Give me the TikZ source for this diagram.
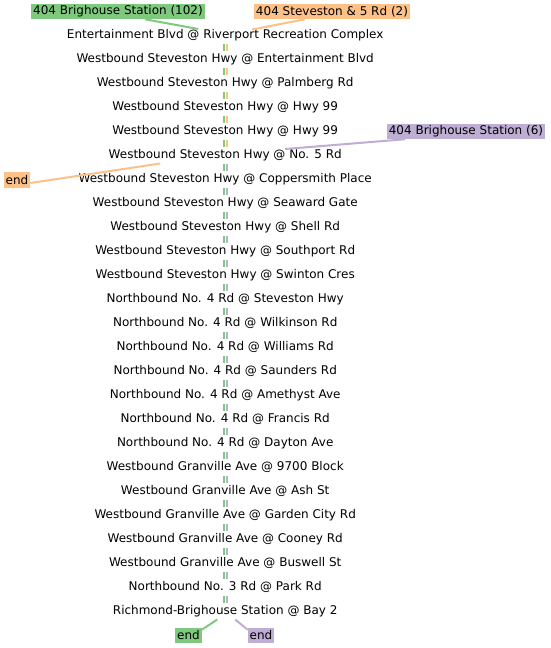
\documentclass[tikz,border=0pt]{standalone}
\usepackage{fontspec}
\setmainfont{DejaVu Sans}
\usetikzlibrary{positioning}
\definecolor{RouteGreen}{RGB}{127, 201, 127}
\definecolor{RouteOrange}{RGB}{253, 192, 134}
\definecolor{RoutePurple}{RGB}{190, 174, 212}
\tikzset{
  stop/.style={inner sep=0pt, outer sep=0pt, minimum height=17pt, font=\fontsize{12}{14}\selectfont},
  route/.style={inner xsep=2pt, inner ysep=0pt, outer sep=0pt, minimum height=15.5pt, font=\fontsize{12}{14}\selectfont},
  link/.style={line width=2pt}
}

\begin{document}
\begin{tikzpicture}[x=1pt, y=-1pt]
    \useasboundingbox (0,0) rectangle (551,648);

    % stops along the route
    \node[stop] (s1) at (225.2,35) {Entertainment Blvd @ Riverport Recreation Complex};
    \foreach \i/\name in {2/Westbound Steveston Hwy @ Entertainment Blvd,
                          3/Westbound Steveston Hwy @ Palmberg Rd,
                          4/Westbound Steveston Hwy @ Hwy 99,
                          5/Westbound Steveston Hwy @ Hwy 99,
                          6/Westbound Steveston Hwy @ No. 5 Rd,
                          7/Westbound Steveston Hwy @ Coppersmith Place,
                          8/Westbound Steveston Hwy @ Seaward Gate,
                          9/Westbound Steveston Hwy @ Shell Rd,
                          10/Westbound Steveston Hwy @ Southport Rd,
                          11/Westbound Steveston Hwy @ Swinton Cres,
                          12/Northbound No. 4 Rd @ Steveston Hwy,
                          13/Northbound No. 4 Rd @ Wilkinson Rd,
                          14/Northbound No. 4 Rd @ Williams Rd,
                          15/Northbound No. 4 Rd @ Saunders Rd,
                          16/Northbound No. 4 Rd @ Amethyst Ave,
                          17/Northbound No. 4 Rd @ Francis Rd,
                          18/Northbound No. 4 Rd @ Dayton Ave,
                          19/Westbound Granville Ave @ 9700 Block,
                          20/Westbound Granville Ave @ Ash St,
                          21/Westbound Granville Ave @ Garden City Rd,
                          22/Westbound Granville Ave @ Cooney Rd,
                          23/Westbound Granville Ave @ Buswell St,
                          24/Northbound No. 3 Rd @ Park Rd,
                          25/Richmond-Brighouse Station @ Bay 2} {
      \pgfmathtruncatemacro{\prev}{\i-1}
      \node[stop, below=7pt of s\prev] (s\i) {\name};
    }

    % route labels and ends
    \node[route, fill=RouteGreen] (brig102) at (118,11.5) {404 Brighouse Station (102)};
    \node[route, fill=RouteOrange] (stev2) at (332,11.5) {404 Steveston \& 5 Rd (2)};
    \node[route, fill=RoutePurple] (brig6) at (466,131.5) {404 Brighouse Station (6)};
    \node[route, fill=RouteOrange] (endorange) at (17,180) {end};
    \node[route, fill=RouteGreen] (endgreen) at (188.5,635.5) {end};
    \node[route, fill=RoutePurple] (endpurple) at (261,635.5) {end};

    % vertical runs
    \foreach \i in {2,...,25} {
      \pgfmathtruncatemacro{\prev}{\i-1}
      \draw[link, RouteGreen] ([xshift=-1.5pt]s\prev.south) -- ([xshift=-1.5pt]s\i.north);
    }
    \foreach \i in {2,...,6} {
      \pgfmathtruncatemacro{\prev}{\i-1}
      \draw[link, RouteOrange] ([xshift=1.5pt]s\prev.south) -- ([xshift=1.5pt]s\i.north);
    }
    \foreach \i in {7,...,25} {
      \pgfmathtruncatemacro{\prev}{\i-1}
      \draw[link, RoutePurple] ([xshift=1.5pt]s\prev.south) -- ([xshift=1.5pt]s\i.north);
    }

    % entries and exits
    \draw[link, RouteGreen] ([xshift=27pt]brig102.south) -- ([xshift=-27pt,yshift=-2.5pt]s1.north);
    \draw[link, RouteOrange] ([xshift=-27pt]stev2.south) -- ([xshift=27pt,yshift=-3pt]s1.north);
    \draw[link, RoutePurple] ([xshift=-61pt]brig6.south) -- ([xshift=60pt,yshift=-2.5pt]s6.north);
    \draw[link, RouteOrange] ([xshift=-65pt]s6.south) -- ([yshift=-3pt]endorange.east);
    \draw[link, RouteGreen] ([xshift=-8pt]s25.south) -- ([yshift=-2pt]endgreen.north east);
    \draw[link, RoutePurple] ([xshift=10pt]s25.south) -- ([yshift=-2pt]endpurple.north west);
\end{tikzpicture}
\end{document}
